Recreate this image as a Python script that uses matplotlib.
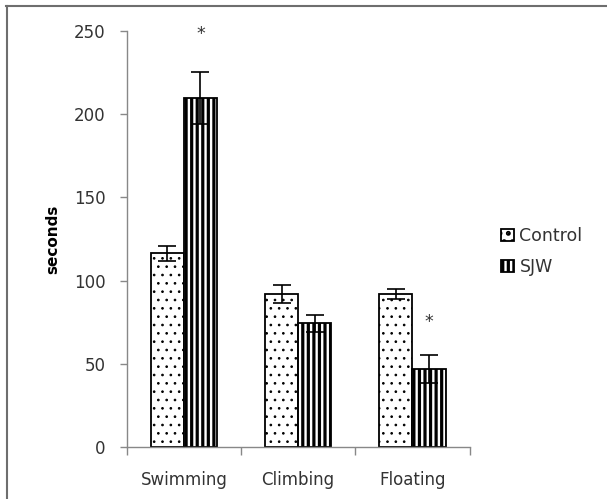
import matplotlib
matplotlib.use("Agg")
import matplotlib.pyplot as plt
from matplotlib.lines import Line2D
import numpy as np

categories = ["Swimming", "Climbing", "Floating"]
control = [116.4, 92.0, 92.0]
control_err = [4.6, 5.2, 3.0]
sjw = [209.4, 74.4, 47.2]
sjw_err = [15.6, 5.0, 8.3]
series_names = ["Control", "SJW"]
yticks = [0, 50, 100, 150, 200, 250]
star_y = {0: 248, 2: 75.4}

fig = plt.figure(figsize=(6.07, 4.99), dpi=100)
ax = fig.add_axes([0.2087, 0.1034, 0.5649, 0.835])

x = np.arange(len(categories))
w = 0.29
plt.rcParams['hatch.linewidth'] = 0.7
b1 = ax.bar(x - w / 2, control, w, color="white", edgecolor="black", hatch="..",
            linewidth=1.3, label=series_names[0], zorder=2)
plt.rcParams['hatch.linewidth'] = 2.3
b2 = ax.bar(x + w / 2, sjw, w, color="white", edgecolor="black", hatch="|||",
            linewidth=1.3, label=series_names[1], zorder=2)
for p in b1:
    if hasattr(p, "set_hatch_linewidth"):
        p.set_hatch_linewidth(0.7)
for p in b2:
    if hasattr(p, "set_hatch_linewidth"):
        p.set_hatch_linewidth(2.3)

ax.errorbar(x - w / 2, control, yerr=control_err, fmt="none", ecolor="black",
            elinewidth=1.2, capsize=6.5, capthick=1.2, zorder=3)
ax.errorbar(x + w / 2, sjw, yerr=sjw_err, fmt="none", ecolor="black",
            elinewidth=1.2, capsize=6.5, capthick=1.2, zorder=3)

for i, yv in star_y.items():
    ax.text(x[i] + w / 2, yv, "*", ha="center", va="center", fontsize=12.5, color="#333333")

ax.set_xlim(-0.5, 2.5)
ax.set_ylim(0, 250)
ax.set_yticks(yticks)
ax.set_xticks([-0.5, 0.5, 1.5, 2.5], minor=False)
ax.set_xticklabels([])
ax.set_xticks(x, minor=True)
ax.set_xticklabels(categories, minor=True, fontsize=12, color="#333333")
ax.tick_params(axis="x", which="minor", length=0, pad=17)
ax.tick_params(axis="x", which="major", length=6, color="#888888", width=1)
ax.tick_params(axis="y", length=5, color="#888888", width=1, labelsize=12,
               labelcolor="#333333", pad=10)

for s in ["top", "right"]:
    ax.spines[s].set_visible(False)
for s in ["left", "bottom"]:
    ax.spines[s].set_color("#888888")
    ax.spines[s].set_linewidth(1)

ax.set_ylabel("seconds", fontsize=11, fontweight="bold", labelpad=10)

leg = ax.legend(loc="center left", bbox_to_anchor=(0.8, 0.496), bbox_transform=fig.transFigure,
                frameon=False, fontsize=12.5, handlelength=0.75, handleheight=0.75,
                handletextpad=0.3, labelspacing=0.75)
for t in leg.get_texts():
    t.set_color("#333333")

fig.add_artist(Line2D([6 / 607, 1], [1 - 6 / 499, 1 - 6 / 499], transform=fig.transFigure,
                      color="#6e6e6e", linewidth=1.5))
fig.add_artist(Line2D([6.5 / 607, 6.5 / 607], [0, 1 - 6 / 499], transform=fig.transFigure,
                      color="#6e6e6e", linewidth=1.5))

fig.savefig("out.png", dpi=100)
